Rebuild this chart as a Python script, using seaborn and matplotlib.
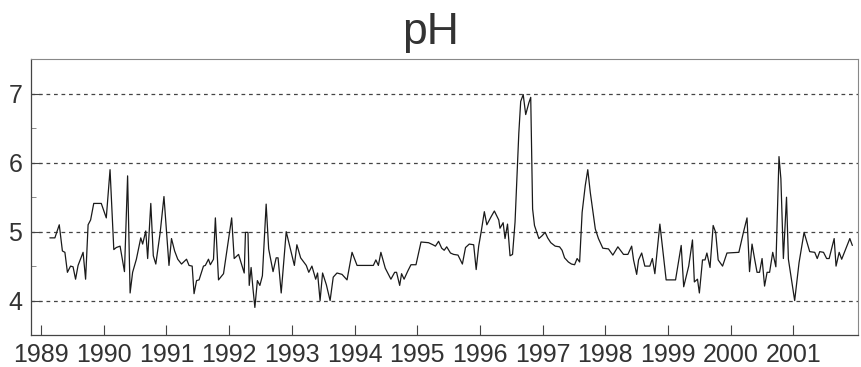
import matplotlib
matplotlib.use("Agg")
import matplotlib.pyplot as plt
from matplotlib.ticker import MultipleLocator
import seaborn as sns
import pandas as pd

# Sampling dates (decimal years) and measured pH
years = [
    1989.14, 1989.22, 1989.29, 1989.34, 1989.38, 1989.42, 1989.47, 1989.51, 1989.55, 1989.59,
    1989.67, 1989.71, 1989.75, 1989.79, 1989.84, 1989.96, 1990.04, 1990.10, 1990.16, 1990.20,
    1990.26, 1990.33, 1990.38, 1990.42, 1990.46, 1990.52, 1990.59, 1990.62, 1990.67, 1990.70,
    1990.75, 1990.79, 1990.83, 1990.90, 1990.96, 1991.04, 1991.08, 1991.13, 1991.18, 1991.24,
    1991.32, 1991.36, 1991.41, 1991.44, 1991.48, 1991.52, 1991.59, 1991.62, 1991.67, 1991.70,
    1991.75, 1991.78, 1991.83, 1991.91, 1992.04, 1992.08, 1992.15, 1992.24, 1992.26, 1992.30,
    1992.32, 1992.35, 1992.38, 1992.41, 1992.45, 1992.49, 1992.53, 1992.59, 1992.63, 1992.70,
    1992.75, 1992.78, 1992.83, 1992.91, 1993.04, 1993.08, 1993.14, 1993.23, 1993.27, 1993.32,
    1993.38, 1993.41, 1993.45, 1993.49, 1993.55, 1993.61, 1993.66, 1993.72, 1993.80, 1993.88,
    1993.96, 1994.04, 1994.30, 1994.34, 1994.38, 1994.42, 1994.49, 1994.54, 1994.58, 1994.64,
    1994.67, 1994.72, 1994.75, 1994.79, 1994.85, 1994.90, 1994.98, 1995.06, 1995.18, 1995.25,
    1995.29, 1995.34, 1995.39, 1995.43, 1995.47, 1995.53, 1995.58, 1995.65, 1995.72, 1995.77,
    1995.83, 1995.90, 1995.94, 1995.98, 1996.02, 1996.07, 1996.11, 1996.18, 1996.23, 1996.30,
    1996.32, 1996.37, 1996.40, 1996.44, 1996.48, 1996.52, 1996.56, 1996.62, 1996.65, 1996.69,
    1996.73, 1996.78, 1996.81, 1996.84, 1996.87, 1996.94, 1996.99, 1997.04, 1997.08, 1997.13,
    1997.20, 1997.27, 1997.31, 1997.35, 1997.41, 1997.46, 1997.51, 1997.55, 1997.59, 1997.63,
    1997.68, 1997.72, 1997.76, 1997.84, 1997.89, 1997.96, 1998.05, 1998.12, 1998.20, 1998.29,
    1998.36, 1998.42, 1998.45, 1998.50, 1998.53, 1998.58, 1998.63, 1998.71, 1998.75, 1998.79,
    1998.87, 1998.97, 1999.12, 1999.21, 1999.25, 1999.33, 1999.39, 1999.42, 1999.47, 1999.50,
    1999.55, 1999.59, 1999.62, 1999.67, 1999.72, 1999.76, 1999.80, 1999.87, 1999.94, 2000.13,
    2000.20, 2000.26, 2000.30, 2000.34, 2000.38, 2000.42, 2000.46, 2000.50, 2000.54, 2000.58,
    2000.62, 2000.67, 2000.72, 2000.77, 2000.80, 2000.84, 2000.89, 2000.92, 2001.02, 2001.09,
    2001.17, 2001.26, 2001.34, 2001.38, 2001.42, 2001.48, 2001.53, 2001.57, 2001.65, 2001.68,
    2001.73, 2001.77, 2001.90, 2001.94,
]
ph = [
    4.91, 4.91, 5.10, 4.72, 4.70, 4.41, 4.50, 4.49, 4.31, 4.51,
    4.70, 4.31, 5.10, 5.17, 5.41, 5.41, 5.20, 5.90, 4.74, 4.77,
    4.79, 4.42, 5.81, 4.11, 4.41, 4.60, 4.91, 4.82, 5.01, 4.61,
    5.41, 4.65, 4.53, 4.99, 5.51, 4.51, 4.90, 4.72, 4.60, 4.53,
    4.60, 4.51, 4.50, 4.10, 4.29, 4.30, 4.50, 4.51, 4.60, 4.52,
    4.60, 5.20, 4.30, 4.39, 5.20, 4.61, 4.67, 4.40, 4.99, 4.99,
    4.22, 4.48, 4.17, 3.90, 4.29, 4.22, 4.36, 5.40, 4.75, 4.42,
    4.62, 4.62, 4.11, 5.00, 4.51, 4.81, 4.62, 4.51, 4.41, 4.50,
    4.31, 4.40, 4.00, 4.40, 4.23, 4.00, 4.34, 4.40, 4.38, 4.30,
    4.70, 4.51, 4.51, 4.59, 4.51, 4.70, 4.47, 4.38, 4.31, 4.41,
    4.41, 4.22, 4.39, 4.31, 4.43, 4.52, 4.52, 4.85, 4.84, 4.81,
    4.79, 4.86, 4.76, 4.73, 4.78, 4.69, 4.67, 4.66, 4.53, 4.77,
    4.82, 4.81, 4.45, 4.79, 5.00, 5.29, 5.10, 5.22, 5.30, 5.17,
    5.05, 5.13, 4.90, 5.11, 4.65, 4.67, 5.14, 6.43, 6.89, 6.99,
    6.70, 6.87, 6.95, 5.33, 5.09, 4.90, 4.94, 4.99, 4.91, 4.84,
    4.79, 4.78, 4.73, 4.62, 4.56, 4.53, 4.52, 4.61, 4.56, 5.28,
    5.67, 5.90, 5.57, 5.04, 4.90, 4.76, 4.75, 4.66, 4.78, 4.67,
    4.67, 4.79, 4.59, 4.38, 4.59, 4.69, 4.50, 4.50, 4.61, 4.39,
    5.11, 4.30, 4.30, 4.80, 4.20, 4.50, 4.88, 4.27, 4.31, 4.11,
    4.59, 4.59, 4.69, 4.48, 5.09, 4.99, 4.59, 4.50, 4.69, 4.70,
    4.98, 5.20, 4.42, 4.82, 4.61, 4.41, 4.41, 4.61, 4.21, 4.41,
    4.41, 4.70, 4.49, 6.09, 5.77, 4.61, 5.50, 4.60, 4.00, 4.55,
    4.99, 4.71, 4.70, 4.61, 4.71, 4.70, 4.61, 4.61, 4.90, 4.50,
    4.70, 4.60, 4.90, 4.80,
]
year_ticks = list(range(1989, 2002))
ph_ticks = [4, 5, 6, 7]

df = pd.DataFrame({"year": years, "pH": ph})

sns.set_style("ticks")
plt.rcParams["font.family"] = ["Liberation Sans", "DejaVu Sans"]

fig = plt.figure(figsize=(8.61, 3.67), dpi=100)
ax = fig.add_axes([0.0357, 0.0872, 0.9608, 0.7508])

sns.lineplot(data=df, x="year", y="pH", ax=ax, color="#1a1a1a",
             linewidth=0.9, estimator=None, sort=False)

# dashed reference lines at the whole pH units
for v in ph_ticks:
    ax.axhline(v, color="#444444", linewidth=0.9, linestyle=(0, (3, 3)), zorder=0)

ax.set_xlim(1988.835, 2002.03)
ax.set_ylim(3.5, 7.5)
ax.set_xticks(year_ticks)
ax.set_xticklabels([str(y) for y in year_ticks])
ax.set_yticks(ph_ticks)
ax.yaxis.set_minor_locator(MultipleLocator(0.5))

ax.tick_params(axis="both", which="major", direction="in", length=7,
               width=0.8, color="#444444", labelsize=18, labelcolor="#333333", pad=6)
ax.tick_params(axis="y", which="minor", direction="in", length=3.5,
               width=0.6, color="#777777")
for side in ["left", "bottom"]:
    ax.spines[side].set_color("#444444")
    ax.spines[side].set_linewidth(0.9)
for side in ["top", "right"]:
    ax.spines[side].set_color("#888888")
    ax.spines[side].set_linewidth(0.8)

ax.set_xlabel("")
ax.set_ylabel("")
fig.text(0.5, 0.912, "pH", ha="center", va="center", fontsize=32, color="#333333")

fig.savefig("out.png", dpi=100)
